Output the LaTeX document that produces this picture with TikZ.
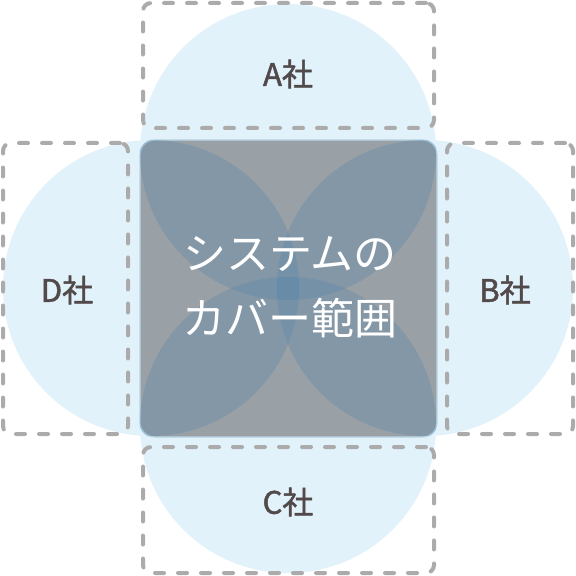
\documentclass[tikz,border=0pt]{standalone}
\usepackage{fontspec}
\setmainfont{Noto Sans CJK JP}
\newfontfamily\labelfont[FakeBold=1.6]{Noto Sans CJK JP}
\usetikzlibrary{positioning}
\definecolor{circblue}{HTML}{E1F2FB}
\definecolor{corebase}{RGB}{182,171,165}
\definecolor{overlap}{RGB}{70,128,170}
\definecolor{dashgrey}{HTML}{ABABAB}
\definecolor{labelgrey}{HTML}{524A4A}
\tikzset{
	area/.style={circle, fill=circblue, minimum size=148pt, inner sep=0pt},
	core/.style={fill=corebase, draw=circblue, line width=0.6pt, rounded corners=7.5pt, minimum size=148.5pt, inner sep=0pt},
	zone/.style={draw=dashgrey, line width=2pt, dash pattern=on 4.5pt off 7pt, line cap=round, rounded corners=4pt, inner sep=0pt},
	company/.style={text=labelgrey, font=\labelfont\fontsize{15.5}{18}\selectfont},
}

\begin{document}
\begin{tikzpicture}[x=0.5pt, y=-0.5pt]
			\useasboundingbox (0,0) rectangle (576,576);
			
			% coverage of each company
			\node[area] (ACIRC) at (288,152) {};
			\node[area] (BCIRC) at (425,288) {};
			\node[area] (CCIRC) at (288,425) {};
			\node[area] (DCIRC) at (151,288) {};
			
			% system coverage
			\node[core] (CORE) at (288.5,288.5) {};
			\begin{scope}
				\clip[rounded corners=7.5pt] (CORE.south west) rectangle (CORE.north east);
				\foreach \c in {ACIRC,BCIRC,CCIRC,DCIRC}
					\fill[overlap, fill opacity=0.25] (\c) circle[radius=74pt];
			\end{scope}
			\node[text=white, align=center, font=\fontsize{21.5}{32.5}\selectfont] (TITLE) at (290,287.5) {システムの\\カバー範囲};
			
			% company frames
			\node[zone, minimum width=145.5pt, minimum height=62.5pt] (AZONE) at (288.5,65.5) {};
			\node[zone, minimum width=63pt, minimum height=145.5pt] (BZONE) at (510,288.5) {};
			\node[zone, minimum width=145.5pt, minimum height=63pt] (CZONE) at (288.5,510) {};
			\node[zone, minimum width=62.5pt, minimum height=145.5pt] (DZONE) at (65.5,288.5) {};
			
			\node[company] (ALABEL) at (288,74) {A社};
			\node[company] (BLABEL) at (505,290) {B社};
			\node[company] (CLABEL) at (288,502) {C社};
			\node[company] (DLABEL) at (67,290) {D社};
			
		\end{tikzpicture}
\end{document}
